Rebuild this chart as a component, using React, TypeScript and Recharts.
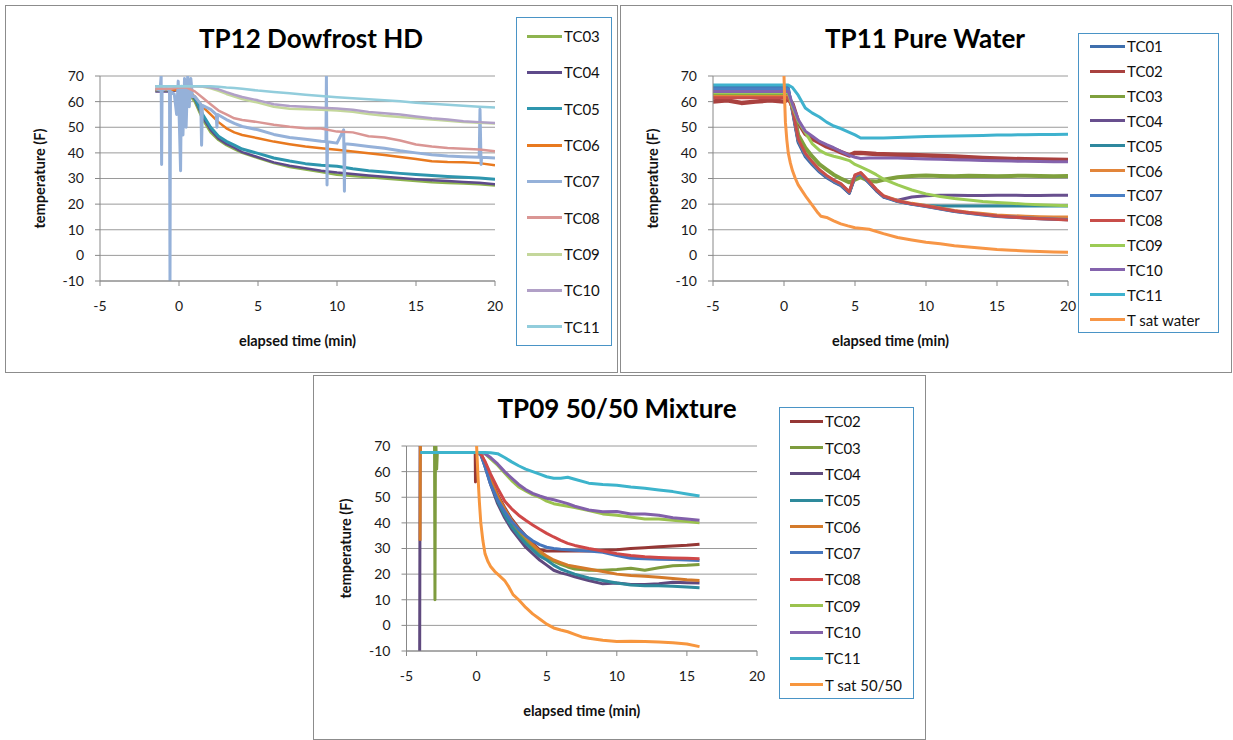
import React from 'react';
import { LineChart, Line, XAxis, YAxis, CartesianGrid, Label } from 'recharts';

// ---------- shared axes ----------
const X_TICKS = [-5, 0, 5, 10, 15, 20];
const Y_TICKS = [-10, 0, 10, 20, 30, 40, 50, 60, 70];

// ---------- Panel 1: TP12 Dowfrost HD ----------
const P1_T = [-1.5, -1, -0.5, 0, 0.5, 1, 1.5, 2, 2.5, 3, 3.5, 4, 5, 6, 7, 8, 9, 10, 11, 12, 13, 14, 15, 16, 17, 18, 19, 20];
const P1_TC03 = [64.5, 64.5, 64.5, 64.5, 64, 60, 53, 48, 45, 43, 41.5, 40, 38, 36, 34.5, 33.5, 32.5, 31.5, 31, 30.5, 30, 29.5, 29, 28.5, 28.2, 28, 27.8, 27.3];
const P1_TC04 = [64, 64, 64, 64.5, 64.5, 61, 54, 49, 45.5, 43.5, 42, 40.3, 38.3, 36.3, 35, 34, 33, 32.3, 31.8, 31.2, 30.7, 30.2, 29.7, 29.3, 29, 28.6, 28.3, 27.8];
const P1_TC05 = [64.5, 64.5, 64.5, 65, 65, 61.5, 55, 50, 46.5, 44.5, 43, 41.5, 39.8, 38, 36.8, 35.8, 35.2, 34.8, 33.8, 33, 32.5, 32, 31.6, 31.2, 30.8, 30.5, 30.2, 29.7];
const P1_TC06 = [64.5, 64.5, 64.5, 64.5, 64.5, 62, 58, 55, 52, 49.6, 48, 47, 45.7, 44.4, 43.4, 42.5, 41.8, 41.2, 40.5, 39.9, 39.2, 38.4, 37.6, 36.7, 36.4, 36.3, 36, 35.2];
const P1_TC07_T = [
  -1.5, -1.2, -1.13, -1.1, -1.07, -0.8, -0.6, -0.57, -0.54, -0.3,
  -0.15, -0.05, 0.05, 0.1, 0.15, 0.25, 0.35, 0.45, 0.55, 0.65,
  0.75, 0.85, 1, 1.38, 1.43, 1.48, 2, 2.35, 2.4, 2.45,
  3, 3.5, 4, 5, 6, 7, 8, 9, 9.3, 9.33,
  9.37, 9.4, 10, 10.42, 10.47, 10.5, 11, 12, 13, 14,
  15, 16, 17, 18, 19, 19.05, 19.12, 19.15, 20,
];
const P1_TC07 = [
  65, 64.5, 70, 35.5, 64.5, 65, 64.5, -10, 64, 63,
  55, 68, 45, 33, 66, 47, 69, 50, 70, 58,
  69, 62, 62, 59, 43, 58.5, 57, 55, 50, 55,
  53, 51.5, 50.3, 49, 47.2, 46, 45.3, 44.5, 44.4, 70,
  27.5, 44.3, 43.8, 49, 25, 43.6, 43.3, 42.5, 41.8, 40.8,
  40, 39.3, 38.8, 38.5, 38.3, 57, 35.5, 38.3, 38,
];
const P1_TC08 = [65, 65, 65, 65.5, 65.5, 64, 61.5, 59, 56.5, 55, 53.5, 52.8, 52, 51, 50.2, 49.6, 49.5, 48.3, 48, 46.5, 46, 44.8, 43.3, 42.5, 41.9, 41.6, 41.3, 40.6];
const P1_TC09 = [66, 66, 66, 66, 66, 66, 65.8, 65.2, 64.2, 63, 62, 61, 59.6, 58, 57.2, 57, 56.8, 56.5, 56, 55.2, 54.5, 54, 53.5, 53, 52.5, 52, 51.8, 51.5];
const P1_TC10 = [66, 66, 66, 66, 66, 66, 66, 65.5, 64.8, 63.7, 62.7, 61.8, 60.5, 59, 58.3, 58, 57.6, 57.3, 56.8, 56, 55.5, 55, 54.2, 53.5, 53, 52.3, 52, 51.7];
const P1_TC11 = [66, 66, 66, 66, 66, 66, 66, 66, 65.8, 65.5, 65.3, 65, 64.3, 63.8, 63.3, 62.7, 62.2, 61.7, 61.3, 60.9, 60.5, 60.1, 59.6, 59.2, 58.8, 58.4, 58, 57.7];

// ---------- Panel 2: TP11 Pure Water ----------
const P2_T = [-5, -4, -3, -2, -1, 0, 0.3, 0.6, 1, 1.5, 2, 2.5, 3, 3.5, 4, 4.6, 5, 5.4, 6, 6.5, 7, 8, 9, 10, 11, 12, 13, 14, 15, 16, 17, 18, 19, 20];
const P2_TC01 = [65.5, 65.5, 65.5, 65.5, 65.5, 65.5, 65.5, 56, 44, 38.5, 35.3, 32.5, 30.3, 28.6, 27.2, 24.2, 30.5, 31.7, 28.2, 25.2, 22.8, 21, 19.9, 19.1, 18.1, 17.1, 16.4, 15.8, 15.2, 14.9, 14.6, 14.3, 14.1, 13.9];
const P2_TC02 = [60, 60.5, 59.5, 60, 60.5, 60, 61, 59, 52, 47.5, 45.5, 44, 42.5, 41.5, 40.3, 39, 40, 40, 39.8, 39.6, 39.5, 39.3, 39.2, 39, 38.8, 38.6, 38.3, 38, 37.8, 37.6, 37.5, 37.4, 37.3, 37.2];
const P2_TC03 = [62.5, 62.5, 62.5, 62.5, 62.5, 62.5, 62.5, 58, 47, 42, 38.5, 35.5, 33.5, 31.5, 30, 28.5, 29.5, 30.5, 29, 28.8, 29.5, 30.5, 31, 31.2, 31, 30.9, 31.1, 31, 30.9, 31, 31.1, 31, 30.9, 31];
const P2_TC04 = [64.5, 64.5, 64.5, 64.5, 64.5, 64.5, 64.5, 56.5, 44.5, 39, 35.8, 32.8, 30.6, 28.8, 27.4, 24.3, 30.8, 31.8, 28.3, 25.3, 22.8, 21.5, 22.8, 23.3, 23.5, 23.5, 23.4, 23.4, 23.5, 23.5, 23.4, 23.4, 23.5, 23.5];
const P2_TC05 = [64, 64, 64, 64, 64, 64, 64, 56.8, 44.8, 39.2, 36, 33, 30.8, 29, 27.6, 24.5, 31, 32, 28.5, 25.5, 23, 21.1, 20, 19.5, 19.3, 19.3, 19.3, 19.3, 19.3, 19.3, 19.3, 19.3, 19.3, 19.3];
const P2_TC06 = [62, 62, 62, 62, 62, 62, 62, 57, 45.3, 39.6, 36.2, 33.2, 31, 29.2, 27.8, 24.8, 31.2, 32.2, 28.8, 25.8, 23.3, 21.4, 20.3, 19.5, 18.5, 17.5, 16.8, 16.3, 15.8, 15.5, 15.3, 15.1, 15, 15];
const P2_TC07 = [65, 65, 65, 65, 65, 65, 65, 57, 45, 39.3, 36, 33, 30.8, 29, 27.6, 24.5, 31, 32, 28.5, 25.5, 23, 21.1, 20, 19.2, 18.2, 17.2, 16.5, 15.9, 15.3, 15, 14.7, 14.4, 14.2, 14];
const P2_TC08 = [61.5, 61.5, 61.5, 61.5, 61.5, 61.5, 61.5, 57.3, 45.5, 39.8, 36.4, 33.4, 31.2, 29.4, 28, 24.8, 31.4, 32.3, 28.8, 25.7, 23.2, 21.2, 20.1, 19.3, 18.3, 17.3, 16.6, 16, 15.4, 15, 14.6, 14.3, 14.1, 13.8];
const P2_TC09 = [63.5, 63.5, 63.5, 63.5, 63.5, 63.5, 63.5, 58, 52.5, 48, 43.5, 41, 39.5, 38.7, 38, 37, 35.5, 34.5, 33, 31.5, 29.8, 27.5, 25.5, 24, 23, 22.2, 21.6, 21, 20.6, 20.3, 20, 19.8, 19.6, 19.4];
const P2_TC10 = [64, 64, 64, 64, 64, 64, 64, 59, 53, 48.5, 46.5, 44.5, 43.2, 42, 40.6, 39, 38.3, 37.8, 38, 38, 38, 38, 37.8, 37.6, 37.5, 37.3, 37.2, 37, 36.9, 36.8, 36.7, 36.6, 36.5, 36.5];
const P2_TC11 = [66.5, 66.5, 66.5, 66.5, 66.5, 66.5, 66.5, 65.5, 62.5, 57.5, 55.5, 54, 52, 50.5, 49.5, 48, 47, 45.8, 45.8, 45.8, 45.8, 46, 46.2, 46.4, 46.5, 46.6, 46.7, 46.8, 47, 47, 47.1, 47.2, 47.2, 47.3];
const P2_TSAT_T = [0, 0.05, 0.1, 0.2, 0.3, 0.45, 0.6, 0.8, 1, 1.3, 1.6, 2, 2.4, 2.6, 3, 3.5, 4, 4.5, 5, 5.5, 6, 7, 8, 9, 10, 11, 12, 13, 14, 15, 16, 17, 18, 19, 20];
const P2_TSAT = [70, 60, 52, 45, 40, 36, 33, 30, 27.5, 25, 22.5, 19.5, 16.5, 15.3, 14.8, 13.5, 12.3, 11.5, 10.8, 10.5, 10.2, 8.5, 7, 6, 5.1, 4.5, 3.8, 3.3, 2.8, 2.3, 2, 1.7, 1.5, 1.3, 1.2];

// ---------- Panel 3: TP09 50/50 Mixture ----------
const P3_T = [-4, -3.5, -3, -2, -1, 0, 0.3, 0.6, 1, 1.5, 2, 2.5, 3, 3.5, 4, 4.5, 5, 5.5, 6, 6.5, 7, 8, 9, 10, 11, 12, 13, 14, 15, 15.9];
const P3_PRE = [67.5, 67.5, 67.5, 67.5, 67.5, 67.5];
const P3_TC02 = [...P3_PRE, 67, 63, 57, 51, 46, 41.5, 38, 35, 32, 29.5, 29, 29, 29, 29, 29, 29, 29.3, 29.5, 30, 30.3, 30.7, 31, 31.3, 31.7];
const P3_TC03 = [...P3_PRE, 67, 63, 56, 49.5, 44, 39.5, 36, 33, 30.5, 28.3, 26.5, 25, 23.8, 22.8, 22, 21.5, 21.5, 21.8, 22.3, 21.5, 22.5, 23.3, 23.5, 23.8];
const P3_TC04 = [...P3_PRE, 67, 62, 55, 47.5, 42, 37.5, 34, 30.5, 28, 25.5, 23.5, 21.5, 20.5, 19.8, 19, 17.5, 16.2, 16.5, 16, 16, 16.2, 16.8, 16.6, 16.5];
const P3_TC05 = [...P3_PRE, 67, 62.5, 55.5, 48.5, 43, 38.5, 35, 32, 29.5, 27, 25.5, 23.5, 22, 21, 20, 18.5, 17.5, 16.5, 15.8, 15.5, 15.5, 15.3, 15, 14.7];
const P3_TC06 = [...P3_PRE, 67, 63.5, 57, 50.5, 45.5, 41, 37.5, 34.5, 31.5, 29, 27, 25.5, 24.5, 23.5, 23, 22, 21, 20, 19.5, 19.2, 18.8, 18.3, 17.8, 17.5];
const P3_TC07 = [...P3_PRE, 66.5, 62, 55, 49, 44.5, 40.5, 37.5, 35, 33, 31.5, 30.5, 30, 29.7, 29.5, 29.3, 29, 28.5, 27.3, 26.2, 26, 25.8, 25.7, 25.5, 25.3];
const P3_TC08 = [...P3_PRE, 67, 64, 59, 53.5, 48.5, 45.5, 43, 41, 39.2, 37.5, 35.9, 34.5, 33.2, 32, 31.2, 30, 29, 28, 27.3, 26.8, 26.5, 26.3, 26.2, 26];
const P3_TC09 = [...P3_PRE, 67.5, 67, 65, 62.5, 59.5, 56.5, 54, 52.5, 51, 50, 48.5, 47.5, 47, 46.5, 46, 44.8, 43.5, 43, 42.3, 41.5, 41.5, 41, 40.5, 40];
const P3_TC10 = [...P3_PRE, 67.5, 67, 65.5, 63, 60, 57.5, 55, 53, 51.5, 50.5, 49.6, 49, 48.3, 47.5, 46.5, 45, 44.3, 44.4, 43.5, 43.5, 43, 42, 41.5, 41];
const P3_TC11 = [...P3_PRE, 67.5, 67.5, 67.4, 67, 65.5, 63.8, 62.3, 61, 60, 59, 58, 57.4, 57.4, 57.8, 57, 55.5, 55, 54.7, 54, 53.5, 52.8, 52.2, 51.3, 50.5];
// glitches recorded before the test started
const P3_TC02_GLITCH_T = [-0.1, -0.08, -0.06];
const P3_TC02_GLITCH = [67.5, 56, 67.5];
const P3_TC03_GLITCH_T = [-3.05, -3.0, -2.97, -2.94, -2.9, -2.85, -2.8];
const P3_TC03_GLITCH = [67.5, 70, 10, 62, 70, 61, 67.5];
const P3_TC04_GLITCH_T = [-4.06, -4.03];
const P3_TC04_GLITCH = [-10, 70];
const P3_TC06_GLITCH_T = [-4.03, -4.01];
const P3_TC06_GLITCH = [33, 70];
const P3_TSAT_T = [0, 0.1, 0.2, 0.3, 0.45, 0.6, 0.8, 1, 1.3, 1.6, 2, 2.3, 2.6, 3, 3.5, 4, 4.5, 5, 5.5, 6, 6.5, 7, 7.5, 8, 9, 10, 11, 12, 13, 14, 15, 15.9];
const P3_TSAT = [70, 58, 48, 40, 33, 28, 25, 23, 21, 19.5, 17.5, 15, 12, 10, 7, 4.5, 2.5, 0.5, -1, -1.8, -2.5, -3.5, -4.5, -5, -5.8, -6.3, -6.2, -6.3, -6.5, -6.8, -7.3, -8.3];

type Pt = { t: number; v: number };
type Series = { name: string; color: string; data: Pt[]; w: number };

const zip = (t: number[], v: number[], extraT: number[] = [], extraV: number[] = []): Pt[] => {
  const pts = t.map((x, i) => ({ t: x, v: v[i] }));
  extraT.forEach((x, i) => pts.push({ t: x, v: extraV[i] }));
  return pts.sort((a, b) => a.t - b.t);
};

const S = (name: string, color: string, data: Pt[], w = 2.5): Series => ({ name, color, data, w });

const SERIES1: Series[] = [
  S('TC03', '#8EB44F', zip(P1_T, P1_TC03)),
  S('TC04', '#5E4A8A', zip(P1_T, P1_TC04)),
  S('TC05', '#2E96AE', zip(P1_T, P1_TC05), 3),
  S('TC06', '#E8791F', zip(P1_T, P1_TC06)),
  S('TC07', '#95B1D9', zip(P1_TC07_T, P1_TC07), 3),
  S('TC08', '#DA9694', zip(P1_T, P1_TC08)),
  S('TC09', '#C4D79B', zip(P1_T, P1_TC09)),
  S('TC10', '#B1A0C7', zip(P1_T, P1_TC10)),
  S('TC11', '#92CDDC', zip(P1_T, P1_TC11)),
];

const SERIES2: Series[] = [
  S('TC01', '#3F6FAD', zip(P2_T, P2_TC01), 3),
  S('TC02', '#A9413F', zip(P2_T, P2_TC02), 4.5),
  S('TC03', '#7FA03D', zip(P2_T, P2_TC03), 4),
  S('TC04', '#684F8E', zip(P2_T, P2_TC04), 3),
  S('TC05', '#2F889E', zip(P2_T, P2_TC05), 3),
  S('TC06', '#E2853A', zip(P2_T, P2_TC06), 3),
  S('TC07', '#4A80C4', zip(P2_T, P2_TC07), 3),
  S('TC08', '#C84E4A', zip(P2_T, P2_TC08), 3),
  S('TC09', '#9CCB55', zip(P2_T, P2_TC09), 3),
  S('TC10', '#8463AD', zip(P2_T, P2_TC10), 3),
  S('TC11', '#3FB2CE', zip(P2_T, P2_TC11), 3),
  S('T sat water', '#F79646', zip(P2_TSAT_T, P2_TSAT), 3),
];

const SERIES3: Series[] = [
  S('TC02', '#953735', zip(P3_T, P3_TC02, P3_TC02_GLITCH_T, P3_TC02_GLITCH), 3),
  S('TC03', '#7E9C3E', zip(P3_T, P3_TC03, P3_TC03_GLITCH_T, P3_TC03_GLITCH), 3),
  S('TC04', '#5F497E', zip(P3_T, P3_TC04, P3_TC04_GLITCH_T, P3_TC04_GLITCH), 3),
  S('TC05', '#2E8A9C', zip(P3_T, P3_TC05), 3),
  S('TC06', '#D47A2A', zip(P3_T, P3_TC06, P3_TC06_GLITCH_T, P3_TC06_GLITCH), 3),
  S('TC07', '#4676BD', zip(P3_T, P3_TC07), 3),
  S('TC08', '#CF4848', zip(P3_T, P3_TC08), 3),
  S('TC09', '#9BC24E', zip(P3_T, P3_TC09), 3),
  S('TC10', '#8260AA', zip(P3_T, P3_TC10), 3),
  S('TC11', '#3DB4CC', zip(P3_T, P3_TC11), 3),
  S('T sat 50/50', '#F7963E', zip(P3_TSAT_T, P3_TSAT), 3),
];

const FONT = 'Lato, "Open Sans", sans-serif';

type PanelCfg = {
  title: string;
  series: Series[];
  box: { x: number; y: number; w: number; h: number };
  margin: { top: number; right: number; bottom: number; left: number };
  titleCx: number;
  legend: { x: number; y: number; w: number; h: number; pad: number; line: number };
};

const PANELS: PanelCfg[] = [
  {
    title: 'TP12 Dowfrost HD',
    series: SERIES1,
    box: { x: 5, y: 5, w: 613, h: 368 },
    margin: { top: 71, right: 123, bottom: 62, left: 45 },
    titleCx: 306,
    legend: { x: 516, y: 17, w: 96, h: 329, pad: 11, line: 35 },
  },
  {
    title: 'TP11 Pure Water',
    series: SERIES2,
    box: { x: 620, y: 5, w: 612, h: 368 },
    margin: { top: 71, right: 164, bottom: 62, left: 43 },
    titleCx: 305,
    legend: { x: 1078, y: 33, w: 141, h: 300, pad: 12, line: 35 },
  },
  {
    title: 'TP09 50/50 Mixture',
    series: SERIES3,
    box: { x: 313, y: 375, w: 613, h: 365 },
    margin: { top: 71, right: 169, bottom: 59, left: 43.5 },
    titleCx: 304,
    legend: { x: 779, y: 407, w: 135, h: 292, pad: 11, line: 33 },
  },
];

const tickStyle = { fontSize: 14, fill: '#1a1a1a', fontFamily: FONT };
const titleStyle = { fontSize: 14.5, fontWeight: 700, fill: '#111', fontFamily: FONT };

const YTitle = (props: any) => {
  const vb = props.viewBox || { x: 0, y: 0, width: 0, height: 0 };
  const cx = vb.x + vb.width - 61;
  const cy = vb.y + vb.height / 2;
  return (
    <text x={cx} y={cy} transform={`rotate(-90 ${cx} ${cy})`} textAnchor="middle" dominantBaseline="central" style={titleStyle}>
      temperature (F)
    </text>
  );
};

function Panel({ cfg }: { cfg: PanelCfg }) {
  const { box, margin, legend } = cfg;
  return (
    <>
      <div style={{ position: 'absolute', left: box.x, top: box.y, width: box.w - 2, height: box.h - 2, border: '1px solid #8c8c8c', background: '#fff' }} />
      <div style={{ position: 'absolute', left: box.x, top: box.y }}>
        <LineChart width={box.w} height={box.h} margin={margin}>
          <CartesianGrid vertical={false} stroke="#9a9a9a" strokeWidth={1} />
          <XAxis
            type="number"
            dataKey="t"
            domain={[-5, 20]}
            ticks={X_TICKS}
            allowDataOverflow
            height={30}
            tick={tickStyle}
            tickSize={5}
            tickMargin={15}
            axisLine={{ stroke: '#888' }}
            tickLine={{ stroke: '#888' }}
          >
            <Label value="elapsed time (min)" position="bottom" offset={25} style={titleStyle} />
          </XAxis>
          <YAxis
            type="number"
            dataKey="v"
            domain={[-10, 70]}
            ticks={Y_TICKS}
            allowDataOverflow
            width={50}
            tick={tickStyle}
            tickSize={5}
            tickMargin={11}
            axisLine={{ stroke: '#888' }}
            tickLine={{ stroke: '#888' }}
          >
            <Label content={YTitle} />
          </YAxis>
          {cfg.series.map((s) => (
            <Line
              key={s.name}
              data={s.data}
              dataKey="v"
              name={s.name}
              type="linear"
              stroke={s.color}
              strokeWidth={s.w}
              dot={false}
              activeDot={false}
              isAnimationActive={false}
              strokeLinejoin="round"
            />
          ))}
        </LineChart>
      </div>
      <div
        style={{
          position: 'absolute',
          left: box.x + cfg.titleCx - 200,
          top: box.y + 18,
          width: 400,
          textAlign: 'center',
          fontFamily: FONT,
          fontWeight: 700,
          fontSize: 26,
          lineHeight: '30px',
          color: '#000',
        }}
      >
        {cfg.title}
      </div>
      <div
        style={{
          position: 'absolute',
          left: legend.x,
          top: legend.y,
          width: legend.w - 2,
          height: legend.h - 2,
          border: '1px solid #4a94c6',
          background: '#fff',
          display: 'flex',
          flexDirection: 'column',
          justifyContent: 'space-around',
        }}
      >
        {cfg.series.map((s) => (
          <div key={s.name} style={{ display: 'flex', alignItems: 'center', paddingLeft: legend.pad - 1, height: 18 }}>
            <span style={{ display: 'inline-block', width: legend.line, height: 3, background: s.color }} />
            <span style={{ marginLeft: 2, fontFamily: FONT, fontSize: 15, color: '#111', whiteSpace: 'nowrap' }}>{s.name}</span>
          </div>
        ))}
      </div>
    </>
  );
}

export default function App() {
  return (
    <div style={{ position: 'absolute', left: 0, top: 0, width: 1233, height: 740, background: '#fff', overflow: 'hidden' }}>
      {PANELS.map((p) => (
        <Panel key={p.title} cfg={p} />
      ))}
    </div>
  );
}
